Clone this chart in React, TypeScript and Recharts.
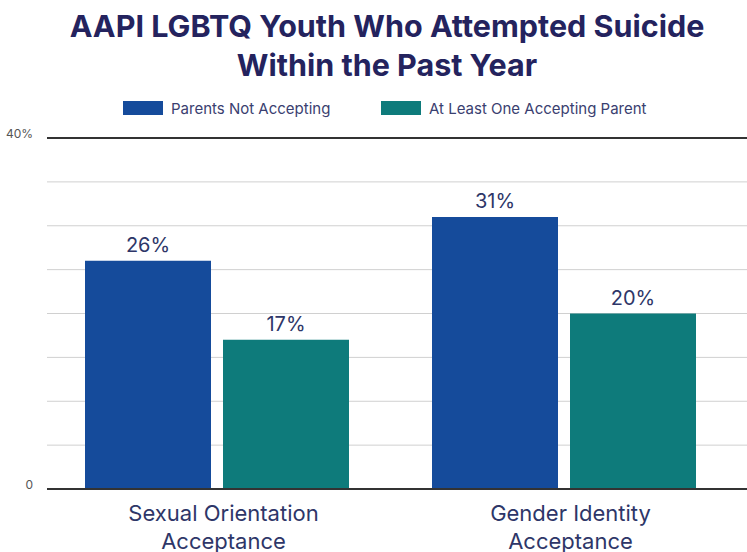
import { BarChart, Bar, XAxis, YAxis, CartesianGrid, LabelList, ReferenceLine } from "recharts";

const categories = ["Sexual Orientation\nAcceptance", "Gender Identity\nAcceptance"];
const notAccepting = [26, 31];
const oneAccepting = [17, 20];
const yTicks = [0, 5, 10, 15, 20, 25, 30, 35, 40];

const BLUE = "#154b9b";
const TEAL = "#0e7b7b";
const NAVY = "#24235e";
const TEXT = "#2e3668";
const FONT = "Inter, 'Noto Sans', sans-serif";

const data = categories.map((c, i) => ({
  name: c,
  notAccepting: notAccepting[i],
  oneAccepting: oneAccepting[i],
}));

function XTick({ x, y, payload }: any) {
  const lines = String(payload.value).split("\n");
  return (
    <text x={x + 7} y={y + 24} textAnchor="middle" fill={TEXT} fontSize={22} fontFamily={FONT}>
      {lines.map((l, i) => (
        <tspan key={i} x={x + 7} dy={i === 0 ? 0 : 28}>{l}</tspan>
      ))}
    </text>
  );
}

function YTick({ x, y, payload }: any) {
  if (payload.value !== 0 && payload.value !== 40) return null;
  return (
    <text x={x - 6} y={y} textAnchor="end" fill="#555" fontSize={12} fontFamily={FONT}>
      {payload.value === 0 ? "0" : payload.value + "%"}
    </text>
  );
}

const legendItems = [
  { label: "Parents Not Accepting", color: BLUE, left: 123 },
  { label: "At Least One Accepting Parent", color: TEAL, left: 381 },
];

export default function App() {
  return (
    <div style={{ position: "absolute", left: 0, top: 0, width: 747, height: 552, background: "#fff", fontFamily: FONT }}>
      <div style={{ position: "absolute", top: 6, left: 0, width: 774, textAlign: "center", color: NAVY, fontWeight: 700, fontSize: 30.5, lineHeight: "39px" }}>
        AAPI LGBTQ Youth Who Attempted Suicide
        <br />
        Within the Past Year
      </div>
      {legendItems.map((it) => (
        <div key={it.label} style={{ position: "absolute", top: 98, left: it.left, display: "flex", alignItems: "center", height: 20 }}>
          <div style={{ width: 40, height: 14, background: it.color, marginRight: 8 }} />
          <span style={{ fontSize: 15, color: "#3a4070" }}>{it.label}</span>
        </div>
      ))}
      <BarChart
        width={747}
        height={552}
        data={data}
        margin={{ top: 138, right: 0, bottom: 0, left: 0 }}
        barSize={126}
        barGap={12}
        style={{ position: "absolute", left: 0, top: 0 }}
      >
        <CartesianGrid vertical={false} stroke="#d0d0d0" strokeWidth={1} />
        <XAxis dataKey="name" tick={<XTick />} tickLine={false} axisLine={false} height={63} interval={0} padding={{ left: -4, right: 10 }} />
        <YAxis domain={[0, 40]} ticks={yTicks} tick={<YTick />} tickLine={false} axisLine={false} width={47} />
        <ReferenceLine y={40} stroke="#333" strokeWidth={2} />
        <Bar dataKey="notAccepting" fill={BLUE} isAnimationActive={false}>
          <LabelList dataKey="notAccepting" position="top" offset={9} formatter={(v: any) => v + "%"} fill={TEXT} fontSize={20} fontFamily={FONT} />
        </Bar>
        <Bar dataKey="oneAccepting" fill={TEAL} isAnimationActive={false}>
          <LabelList dataKey="oneAccepting" position="top" offset={9} formatter={(v: any) => v + "%"} fill={TEXT} fontSize={20} fontFamily={FONT} />
        </Bar>
        <ReferenceLine y={0} stroke="#333" strokeWidth={2} />
      </BarChart>
    </div>
  );
}
